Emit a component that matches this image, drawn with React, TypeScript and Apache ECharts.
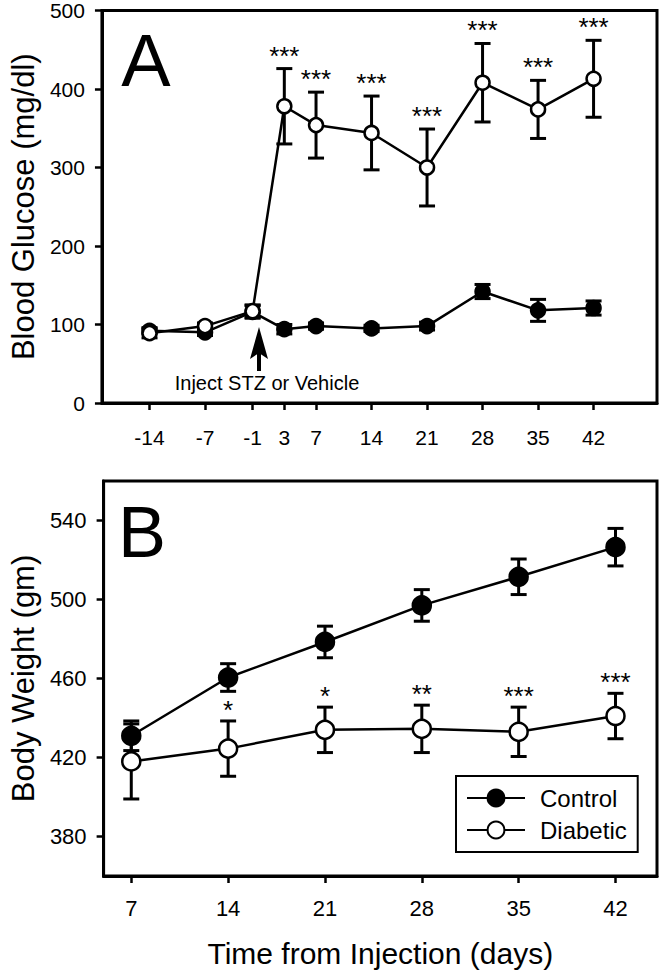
import React, { useEffect, useRef } from "react";
import * as echarts from "echarts";

// ---- Panel A: blood glucose ----
const glucoseDays = [-14, -7, -1, 3, 7, 14, 21, 28, 35, 42];
const glucoseTicks = [-14, -7, -1, 3, 7, 14, 21, 28, 35, 42];
const glucoseControl = [92, 90, 116, 94, 98, 95, 98, 142, 118, 121];
const glucoseControlErr = [4, 4, 8, 6, 4, 4, 5, 9, 14, 9];
const glucoseDiabetic = [89, 98, 117, 378, 354, 344, 300, 408, 374, 413];
const glucoseDiabeticErr = [6, 4, 8, 48, 42, 47, 49, 50, 37, 49];
const glucoseSig = ["", "", "", "***", "***", "***", "***", "***", "***", "***"];

// ---- Panel B: body weight ----
const weightDays = [7, 14, 21, 28, 35, 42];
const weightTicks = [7, 14, 21, 28, 35, 42];
const weightYTicks = [380, 420, 460, 500, 540];
const weightControl = [431, 460.5, 478.5, 497, 511.5, 526.5];
const weightControlErr = [7.5, 7, 8, 8, 9, 9.5];
const weightDiabetic = [418, 424.5, 434, 434.5, 433, 441];
const weightDiabeticErr = [19, 14, 11.5, 12, 12.5, 11.5];
const weightSig = ["", "*", "*", "**", "***", "***"];

const FONT = "'Liberation Sans', Arial, Helvetica, sans-serif";

function errData(xs: number[], ys: number[], es: number[], sig?: string[]) {
  return xs.map((x, i) => [x, ys[i], es[i], sig ? sig[i] : ""]);
}

function makeErrRender(cap: number, sigOffset: number, sigSize: number) {
  return (params: any, api: any) => {
    const x = api.value(0);
    const y = api.value(1);
    const e = api.value(2);
    const s = api.value(3);
    const top = api.coord([x, y + e]);
    const bot = api.coord([x, y - e]);
    const style = { stroke: "#000", lineWidth: 3 };
    const children: any[] = [
      { type: "line", shape: { x1: top[0], y1: top[1], x2: bot[0], y2: bot[1] }, style },
      { type: "line", shape: { x1: top[0] - cap / 2, y1: top[1], x2: top[0] + cap / 2, y2: top[1] }, style },
      { type: "line", shape: { x1: bot[0] - cap / 2, y1: bot[1], x2: bot[0] + cap / 2, y2: bot[1] }, style },
    ];
    if (s && String(s).length > 0 && String(s) !== "0") {
      children.push({
        type: "text",
        style: {
          text: String(s),
          x: top[0],
          y: top[1] - sigOffset,
          align: "center",
          verticalAlign: "middle",
          fontSize: sigSize,
          fontFamily: FONT,
          fill: "#000",
        },
      });
    }
    return { type: "group", children };
  };
}

export default function App() {
  const ref = useRef<HTMLDivElement>(null);

  useEffect(() => {
    if (!ref.current) return;
    const chart = echarts.init(ref.current, undefined, { renderer: "svg" });

    const axisLineStyle = { color: "#000", width: 3 };
    const tickStyle = { color: "#000", width: 2.5 };

    const lineSeries = (
      name: string,
      xs: number[],
      ys: number[],
      filled: boolean,
      idx: number,
      size: number
    ) => ({
      type: "line",
      name,
      xAxisIndex: idx,
      yAxisIndex: idx,
      data: xs.map((x, i) => [x, ys[i]]),
      symbol: "circle",
      symbolSize: size,
      showAllSymbol: true,
      lineStyle: { color: "#000", width: 2.5 },
      itemStyle: {
        color: filled ? "#000" : "#fff",
        borderColor: "#000",
        borderWidth: 2.5,
      },
      z: filled ? 3 : 4,
      clip: false,
    });

    const errSeries = (
      xs: number[],
      ys: number[],
      es: number[],
      sig: string[] | undefined,
      idx: number,
      sigOffset: number
    ) => ({
      type: "custom",
      xAxisIndex: idx,
      yAxisIndex: idx,
      data: errData(xs, ys, es, sig),
      renderItem: makeErrRender(16, sigOffset, 26),
      encode: { x: 0, y: 1 },
      z: 2,
      clip: false,
      silent: true,
    });

    const option: any = {
      animation: false,
      backgroundColor: "#fff",
      textStyle: { fontFamily: FONT, color: "#000" },
      grid: [
        {
          left: 94, top: 8, width: 563, height: 395,
          show: true, borderColor: "#000", borderWidth: 3, backgroundColor: "transparent",
        },
        {
          left: 94, top: 481, width: 563, height: 395,
          show: true, borderColor: "#000", borderWidth: 3, backgroundColor: "transparent",
        },
      ],
      xAxis: [
        {
          type: "value", gridIndex: 0, min: -20, max: 50,
          axisLine: { show: true, onZero: false, lineStyle: axisLineStyle },
          axisTick: { show: true, length: 7, lineStyle: tickStyle, customValues: glucoseTicks },
          axisLabel: {
            customValues: glucoseTicks, fontSize: 21, color: "#000", margin: 24, fontFamily: FONT,
          },
          splitLine: { show: false },
        },
        {
          type: "value", gridIndex: 1, min: 5, max: 45,
          name: "Time from Injection (days)",
          nameLocation: "middle", nameGap: 62,
          nameTextStyle: { fontSize: 30, color: "#000", fontFamily: FONT },
          axisLine: { show: true, onZero: false, lineStyle: axisLineStyle },
          axisTick: { show: true, length: 7, lineStyle: tickStyle, customValues: weightTicks },
          axisLabel: {
            customValues: weightTicks, fontSize: 22, color: "#000", margin: 21, fontFamily: FONT,
          },
          splitLine: { show: false },
        },
      ],
      yAxis: [
        {
          type: "value", gridIndex: 0, min: 0, max: 500, interval: 100,
          name: "Blood Glucose (mg/dl)",
          nameLocation: "middle", nameGap: 61, nameRotate: 90,
          nameTextStyle: { fontSize: 31, color: "#000", fontFamily: FONT },
          axisLine: { show: true, onZero: false, lineStyle: axisLineStyle },
          axisTick: { show: true, length: 7, lineStyle: tickStyle },
          axisLabel: { fontSize: 21, color: "#000", margin: 17, fontFamily: FONT },
          splitLine: { show: false },
        },
        {
          type: "value", gridIndex: 1, min: 360, max: 560,
          name: "Body Weight (gm)",
          nameLocation: "middle", nameGap: 61, nameRotate: 90,
          nameTextStyle: { fontSize: 31, color: "#000", fontFamily: FONT },
          axisLine: { show: true, onZero: false, lineStyle: axisLineStyle },
          axisTick: { show: true, length: 7, lineStyle: tickStyle, customValues: weightYTicks },
          axisLabel: {
            customValues: weightYTicks, fontSize: 22, color: "#000", margin: 17, fontFamily: FONT,
          },
          splitLine: { show: false },
        },
      ],
      legend: {
        data: ["Control", "Diabetic"],
        orient: "vertical",
        left: 456,
        top: 776,
        padding: [10, 11, 10, 10],
        itemGap: 8,
        itemWidth: 58,
        itemHeight: 21,
        borderColor: "#000",
        borderWidth: 2,
        selectedMode: false,
        textStyle: { fontSize: 24, color: "#000", fontFamily: FONT, padding: [0, 0, 0, 10] },
      },
      graphic: [
        {
          type: "text",
          style: { text: "A", x: 146, y: 60, align: "center", verticalAlign: "middle", fontSize: 74, fontFamily: FONT, fill: "#000" },
        },
        {
          type: "text",
          style: { text: "B", x: 142, y: 532, align: "center", verticalAlign: "middle", fontSize: 72, fontFamily: FONT, fill: "#000" },
        },
        {
          type: "text",
          style: { text: "Inject STZ or Vehicle", x: 267, y: 383, align: "center", verticalAlign: "middle", fontSize: 20, fontFamily: FONT, fill: "#000" },
        },
        {
          type: "line",
          shape: { x1: 259, y1: 371, x2: 259, y2: 350 },
          style: { stroke: "#000", lineWidth: 4 },
        },
        {
          type: "polygon",
          shape: { points: [[250, 359], [259, 327], [268, 359], [259, 353]] },
          style: { fill: "#000" },
        },
      ],
      series: [
        // bottom panel first so legend icons match its marker size
        errSeries(weightDays, weightControl, weightControlErr, undefined, 1, 11),
        errSeries(weightDays, weightDiabetic, weightDiabeticErr, weightSig, 1, 11),
        lineSeries("Control", weightDays, weightControl, true, 1, 18),
        lineSeries("Diabetic", weightDays, weightDiabetic, false, 1, 18),
        errSeries(glucoseDays, glucoseControl, glucoseControlErr, undefined, 0, 13),
        errSeries(glucoseDays, glucoseDiabetic, glucoseDiabeticErr, glucoseSig, 0, 13),
        lineSeries("Control", glucoseDays, glucoseControl, true, 0, 14),
        lineSeries("Diabetic", glucoseDays, glucoseDiabetic, false, 0, 14),
      ],
    };

    chart.setOption(option);
    return () => chart.dispose();
  }, []);

  return (
    <div
      ref={ref}
      style={{ position: "absolute", left: 0, top: 0, width: 660, height: 971, background: "#fff" }}
    />
  );
}
